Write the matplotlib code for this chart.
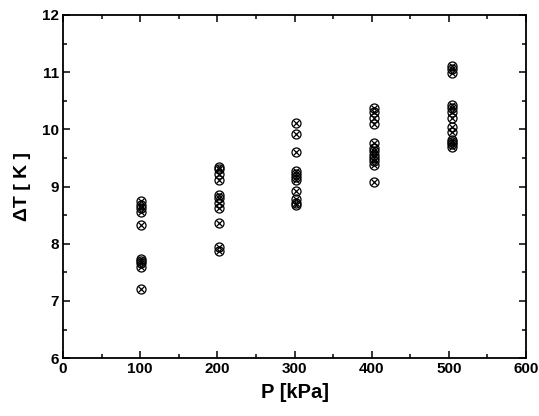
import matplotlib
matplotlib.use('Agg')
import matplotlib.pyplot as plt
from matplotlib.ticker import MultipleLocator

plt.rcParams['font.family'] = ['Liberation Sans', 'DejaVu Sans']
plt.rcParams['font.weight'] = 'bold'

# Pressure levels (kPa) and measured temperature differences (K)
p_100 = [8.75, 8.68, 8.62, 8.55, 8.32, 7.74, 7.7, 7.66, 7.6, 7.21]
p_200 = [9.35, 9.3, 9.22, 9.12, 8.86, 8.8, 8.72, 8.62, 8.37, 7.95, 7.88]
p_300 = [10.12, 9.92, 9.6, 9.28, 9.22, 9.17, 9.12, 8.93, 8.78, 8.72, 8.68]
p_400 = [10.37, 10.3, 10.2, 10.1, 9.76, 9.68, 9.62, 9.56, 9.5, 9.44, 9.38, 9.08]
p_500 = [11.1, 11.05, 10.98, 10.42, 10.38, 10.3, 10.2, 10.05, 9.95, 9.82,
         9.78, 9.75, 9.7]
pressures = [101, 202, 302, 403, 504]
groups = [p_100, p_200, p_300, p_400, p_500]

fig = plt.figure(figsize=(5.39, 4.16), dpi=100)
ax = fig.add_axes([0.117, 0.139, 0.859, 0.825])

for p, vals in zip(pressures, groups):
    xs = [p] * len(vals)
    ax.plot(xs, vals, linestyle='none', marker='o', markersize=6.5,
            markerfacecolor='none', markeredgecolor='black', markeredgewidth=0.9)
    ax.plot(xs, vals, linestyle='none', marker='x', markersize=4.6,
            markeredgecolor='black', markeredgewidth=0.9)

ax.set_xlim(0, 600)
ax.set_ylim(6, 12)
ax.xaxis.set_major_locator(MultipleLocator(100))
ax.xaxis.set_minor_locator(MultipleLocator(50))
ax.yaxis.set_major_locator(MultipleLocator(1))
ax.yaxis.set_minor_locator(MultipleLocator(0.5))
ax.tick_params(which='both', direction='in', top=True, right=True, width=1.1)
ax.tick_params(which='major', length=5, labelsize=11, pad=3)
ax.tick_params(which='minor', length=3)
for lbl in ax.get_xticklabels() + ax.get_yticklabels():
    lbl.set_fontweight('bold')
for s in ax.spines.values():
    s.set_linewidth(1.3)

ax.set_xlabel('P [kPa]', fontsize=14.5, fontweight='bold', labelpad=5)
ax.set_ylabel('ΔT [ K ]', fontsize=14, fontweight='bold', labelpad=8)

fig.savefig('out.png', dpi=100)
